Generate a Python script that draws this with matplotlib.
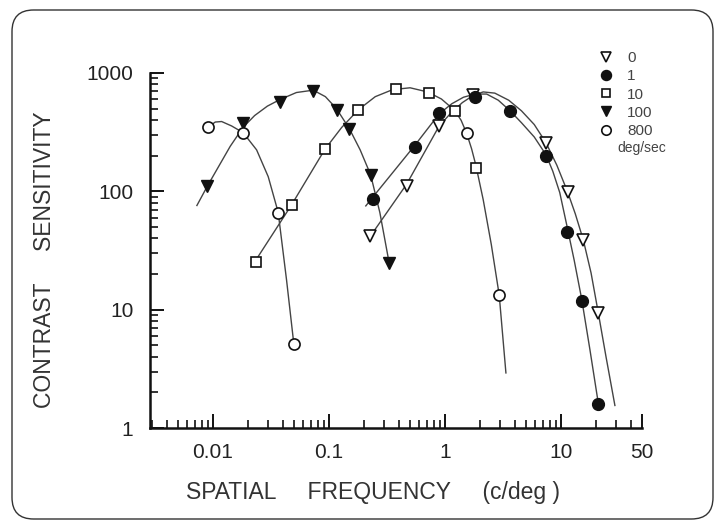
import numpy as np
import matplotlib
matplotlib.use('Agg')
import matplotlib.pyplot as plt
from matplotlib.patches import FancyBboxPatch
from matplotlib.ticker import FixedLocator, NullFormatter

plt.rcParams['font.family'] = ['Liberation Sans', 'DejaVu Sans']

# measured points (c/deg, sensitivity), one set per velocity (deg/sec)
v0_x = [0.227, 0.468, 0.893, 1.75, 7.42, 11.4, 15.6, 21.0]
v0_y = [41.6, 110, 357, 653, 258, 99.4, 38.8, 9.4]

v1_x = [0.241, 0.551, 0.893, 1.81, 3.64, 7.42, 11.2, 15.1, 21.0]
v1_y = [85.8, 236, 457, 631, 481, 199, 45.6, 11.8, 1.6]

v10_x = [0.0235, 0.0477, 0.0924, 0.179, 0.378, 0.732, 1.22, 1.54, 1.85, 2.94]
v10_y = [25.2, 76.7, 227, 488, 730, 683, 481, 310, 157, 13.3]
v10_round = [7, 9]   # these two print as rounded symbols in the figure

v100_x = [0.00893, 0.0182, 0.0378, 0.0732, 0.117, 0.150, 0.229, 0.331]
v100_y = [110, 377, 573, 710, 488, 335, 138, 24.7]

v800_x = [0.0091, 0.0182, 0.0366, 0.0499]
v800_y = [348, 313, 66, 5.1]

# fitted curves
c0_x = [0.227, 0.468, 0.893, 1.122, 1.413, 1.75, 2.138, 2.692, 3.548, 4.571, 5.888, 7.43, 9.23,
        11.4, 13.3, 15.6, 18.2, 21.0, 24.5, 29.2]
c0_y = [41.6, 115, 357, 457, 562, 646, 692, 676, 589, 479, 367, 258, 166,
        99.3, 64.6, 38.8, 20.4, 9.4, 3.98, 1.55]

c1_x = [0.208, 0.241, 0.551, 0.893, 1.148, 1.445, 1.82, 2.29, 2.884, 3.63, 4.57, 5.89, 7.43,
        8.51, 9.77, 11.2, 13.0, 15.1, 17.8, 21.0]
c1_y = [75.3, 90.2, 245, 452, 550, 624, 664, 664, 589, 481, 380, 288, 204,
        148, 97.7, 52.5, 26.3, 12.3, 4.57, 1.62]

c10_x = [0.0235, 0.0476, 0.0925, 0.129, 0.179, 0.251, 0.355, 0.501, 0.708, 0.933, 1.219, 1.380,
         1.538, 1.698, 1.849, 2.138, 2.512, 2.938, 3.357]
c10_y = [26.3, 76.7, 227, 347, 488, 631, 724, 750, 692, 603, 481, 398,
         310, 229, 166, 85.1, 35.5, 13.3, 2.92]

c100_x = [0.00728, 0.00893, 0.0112, 0.0141, 0.0182, 0.0229, 0.0295, 0.0378, 0.0525, 0.0733,
          0.0933, 0.116, 0.150, 0.186, 0.229, 0.275, 0.331]
c100_y = [75.9, 110, 162, 240, 347, 437, 525, 596, 684, 716,
          631, 501, 339, 224, 138, 66.1, 24.7]

c800_x = [0.0091, 0.01047, 0.01189, 0.01449, 0.01824, 0.02382, 0.02999, 0.0354, 0.03656, 0.04315, 0.04989]
c800_y = [348, 385, 389, 357, 313, 224, 133, 74.3, 66.1, 17.8, 5.1]

vel_labels = ['0', '1', '10', '100', '800']

ink = '#111111'
curve_col = '#444444'

fig = plt.figure(figsize=(7.18, 5.2), dpi=100)
frame = FancyBboxPatch((12/718, 1/520), 701/718, 509/520, transform=fig.transFigure,
                       boxstyle='round,pad=0,rounding_size=0.03', mutation_aspect=718/520,
                       fc='white', ec='#333333', lw=1.0, zorder=-5)
fig.patches.append(frame)

ax = fig.add_axes([150/718, 1 - 428/520, 492/718, 355/520])
ax.set_facecolor('none')
ax.set_xscale('log')
ax.set_yscale('log')
ax.set_xlim(0.00287, 50)
ax.set_ylim(1, 1000)

# curves
for cx, cy in [(c0_x, c0_y), (c1_x, c1_y), (c10_x, c10_y), (c100_x, c100_y), (c800_x, c800_y)]:
    ax.plot(cx, cy, color=curve_col, lw=1.0, zorder=2)

ms = 8.5
ax.plot(v0_x, v0_y, ls='none', marker='v', ms=ms, mfc='white', mec=ink, mew=1.2, label=vel_labels[0], zorder=3)
ax.plot(v1_x, v1_y, ls='none', marker='o', ms=ms, mfc=ink, mec=ink, mew=1.0, label=vel_labels[1], zorder=3)
sq_idx = [i for i in range(len(v10_x)) if i not in v10_round]
ax.plot([v10_x[i] for i in sq_idx], [v10_y[i] for i in sq_idx], ls='none', marker='s', ms=ms - 1,
        mfc='white', mec=ink, mew=1.2, label=vel_labels[2], zorder=3)
ax.plot([v10_x[i] for i in v10_round], [v10_y[i] for i in v10_round], ls='none', marker='o', ms=ms - 0.5,
        mfc='white', mec=ink, mew=1.2, zorder=3)
ax.plot(v100_x, v100_y, ls='none', marker='v', ms=ms, mfc=ink, mec=ink, mew=1.0, label=vel_labels[3], zorder=3)
ax.plot(v800_x, v800_y, ls='none', marker='o', ms=ms - 0.5, mfc='white', mec=ink, mew=1.2, label=vel_labels[4], zorder=3)

# axes styling
for s in ['top', 'right']:
    ax.spines[s].set_visible(False)
for s in ['left', 'bottom']:
    ax.spines[s].set_linewidth(1.8)
    ax.spines[s].set_color(ink)

ax.set_yticks([1, 10, 100, 1000])
ax.set_yticklabels(['1', '10', '100', '1000'])
ax.yaxis.set_minor_locator(FixedLocator([m * 10**e for e in range(0, 3) for m in range(2, 10)]))
ax.yaxis.set_minor_formatter(NullFormatter())

ax.set_xticks([0.01, 0.1, 1, 10, 50])
ax.set_xticklabels(['0.01', '0.1', '1', '10', '50'])
ax.xaxis.set_minor_locator(FixedLocator([m * 10.0**e for e in range(-3, 2) for m in range(2, 10)
                                         if 0.003 <= m * 10.0**e <= 45]))
ax.xaxis.set_minor_formatter(NullFormatter())

ax.tick_params(axis='both', which='major', direction='in', length=10, width=1.4, color=ink,
               labelsize=15, labelcolor='#222222')
ax.tick_params(axis='both', which='minor', direction='in', length=6, width=1.2, color=ink)
ax.tick_params(axis='y', which='major', pad=12)
ax.tick_params(axis='x', which='major', pad=11)

fig.text(45/718, 1 - 260/520, 'CONTRAST     SENSITIVITY', rotation=90, ha='center', va='center',
         fontsize=16.5, color='#333333')
fig.text(373/718, 1 - 493/520, 'SPATIAL     FREQUENCY     (c/deg )', ha='center', va='center',
         fontsize=16.5, color='#333333')

leg = ax.legend(loc='upper left', bbox_to_anchor=(598/718, 1 - 51/520), bbox_transform=fig.transFigure,
                frameon=False, handlelength=1.0, handletextpad=0.9, labelspacing=0.28,
                fontsize=11, markerscale=0.85, borderaxespad=0, borderpad=0)
for t in leg.get_texts():
    t.set_color('#444444')
fig.text(617/718, 1 - 148/520, 'deg/sec', ha='left', va='center', fontsize=10, color='#444444')

fig.savefig('out.png', dpi=100)
